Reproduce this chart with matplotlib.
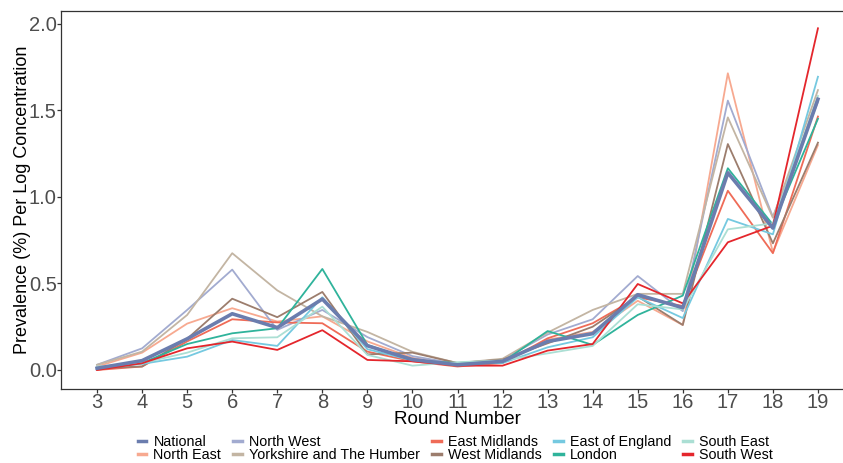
import matplotlib
matplotlib.use("Agg")
import matplotlib.pyplot as plt

plt.rcParams["font.family"] = ["Liberation Sans", "DejaVu Sans"]

rounds = list(range(3, 20))

# prevalence per log concentration, rounds 3..19
national = [0.01, 0.054, 0.18, 0.325, 0.245, 0.41, 0.14, 0.06, 0.03, 0.05, 0.165, 0.21, 0.435, 0.36, 1.14, 0.82, 1.565]
north_east = [0.02, 0.10, 0.268, 0.357, 0.28, 0.31, 0.165, 0.07, 0.025, 0.05, 0.175, 0.22, 0.40, 0.26, 1.715, 0.68, 1.30]
north_west = [0.03, 0.125, 0.347, 0.58, 0.232, 0.347, 0.19, 0.08, 0.035, 0.06, 0.205, 0.293, 0.543, 0.34, 1.557, 0.885, 1.55]
yorkshire = [0.03, 0.106, 0.318, 0.675, 0.46, 0.31, 0.22, 0.105, 0.04, 0.065, 0.216, 0.347, 0.44, 0.44, 1.46, 0.88, 1.618]
east_midlands = [0.0, 0.02, 0.165, 0.293, 0.275, 0.27, 0.106, 0.05, 0.02, 0.04, 0.183, 0.27, 0.42, 0.37, 1.036, 0.675, 1.465]
west_midlands = [0.01, 0.02, 0.18, 0.412, 0.305, 0.451, 0.09, 0.10, 0.04, 0.06, 0.154, 0.25, 0.425, 0.26, 1.306, 0.732, 1.314]
east_of_england = [0.01, 0.035, 0.077, 0.173, 0.139, 0.42, 0.12, 0.055, 0.035, 0.04, 0.131, 0.189, 0.42, 0.30, 0.873, 0.784, 1.695]
london = [0.015, 0.04, 0.15, 0.212, 0.241, 0.584, 0.145, 0.055, 0.04, 0.045, 0.225, 0.145, 0.318, 0.43, 1.166, 0.84, 1.452]
south_east = [0.02, 0.04, 0.10, 0.183, 0.189, 0.366, 0.087, 0.025, 0.045, 0.055, 0.096, 0.139, 0.38, 0.35, 0.813, 0.848, 1.584]
south_west = [0.0, 0.039, 0.125, 0.164, 0.116, 0.23, 0.058, 0.05, 0.025, 0.025, 0.112, 0.15, 0.497, 0.385, 0.738, 0.834, 1.975]

series = [
    ("National", national, "#6b7dae", 2.6),
    ("North East", north_east, "#f7a990", 1.3),
    ("North West", north_west, "#a2abd0", 1.3),
    ("Yorkshire and The Humber", yorkshire, "#c3b5a3", 1.3),
    ("East Midlands", east_midlands, "#ef6b57", 1.3),
    ("West Midlands", west_midlands, "#9c7d6d", 1.3),
    ("East of England", east_of_england, "#75c9e0", 1.3),
    ("London", london, "#2fb39b", 1.3),
    ("South East", south_east, "#abdfd4", 1.3),
    ("South West", south_west, "#e4262c", 1.3),
]

fig = plt.figure(figsize=(8.43, 4.63), dpi=100)
# panel runs a little past the right edge of the canvas
ax = fig.add_axes([61 / 843, 1 - 389 / 463, 793 / 843, 378 / 463])

# regions first so the national line sits on top
for name, vals, col, lw in series[1:]:
    ax.plot(rounds, vals, color=col, lw=lw, label=name)
ax.plot(rounds, national, color=series[0][2], lw=series[0][3], label="National", zorder=5)

ax.set_xlim(2.2, 19.8)
ax.set_ylim(-0.11, 2.075)
ax.set_xticks(rounds)
ax.set_yticks([0.0, 0.5, 1.0, 1.5, 2.0])
ax.set_yticklabels(["0.0", "0.5", "1.0", "1.5", "2.0"])

for s in ax.spines.values():
    s.set_color("#333333")
    s.set_linewidth(0.9)
ax.tick_params(colors="#333333", labelcolor="#4d4d4d", labelsize=14.5, length=3, width=0.9, pad=0)

ax.set_xlabel("Round Number", fontsize=13.5, labelpad=-0.5)
ax.set_ylabel("Prevalence (%) Per Log Concentration", fontsize=13, labelpad=-1.5)

handles, labels = ax.get_legend_handles_labels()
lookup = dict(zip(labels, handles))
names = [s[0] for s in series]
leg_handles = [plt.Line2D([], [], color=lookup[n].get_color(), lw=2.5) for n in names]
fig.legend(leg_handles, names, loc="lower center", bbox_to_anchor=(0.54, -0.014),
           ncol=5, frameon=False, fontsize=10.3, handlelength=0.6, handletextpad=0.5,
           columnspacing=0.85, labelspacing=-0.05, borderpad=0.0)

fig.savefig("out.png", dpi=100)
